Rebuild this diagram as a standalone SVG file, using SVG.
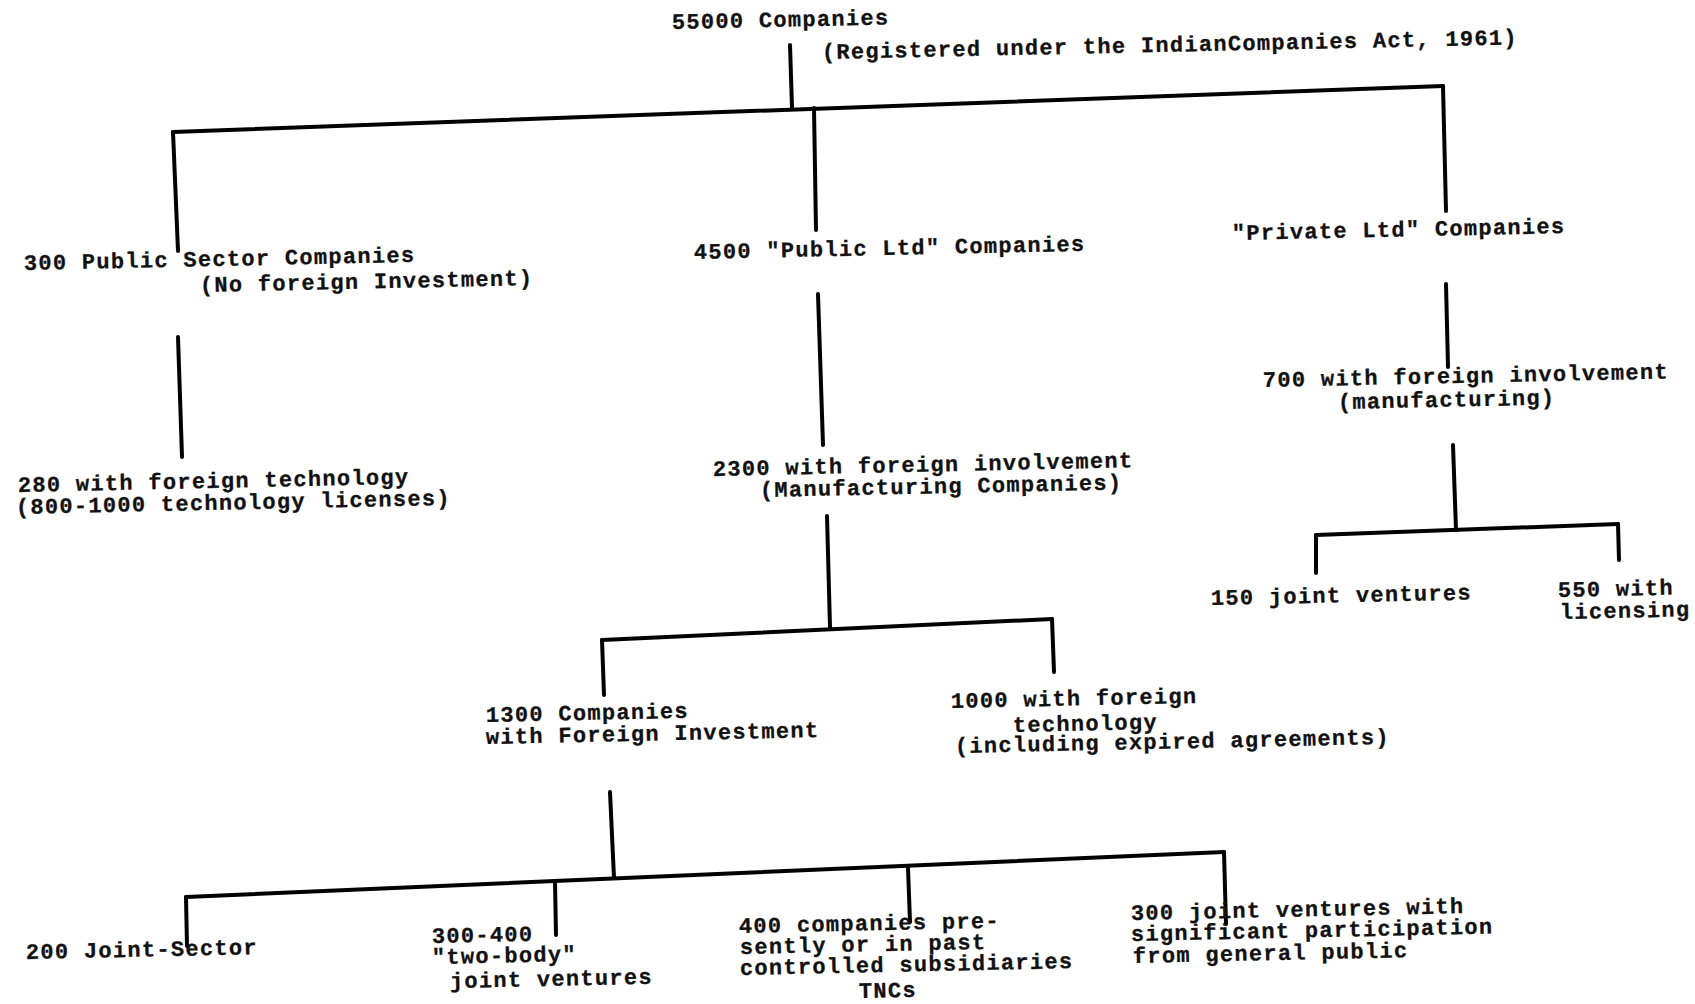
<svg xmlns="http://www.w3.org/2000/svg" width="1695" height="1004" viewBox="0 0 1695 1004">
<style>
text{font-family:"Liberation Mono","DejaVu Sans Mono",monospace;font-weight:bold;font-size:22px;letter-spacing:1.3px;fill:#111;stroke:#111;stroke-width:0.3px;}
.c line{stroke:#000;stroke-width:4;stroke-linecap:round;}
</style>
<rect width="1695" height="1004" fill="#fff"/>
<g class="c" id="connectors">
<line x1="790" y1="45" x2="792" y2="108"/>
<line x1="173" y1="132" x2="1443" y2="86"/>
<line x1="173" y1="132" x2="178" y2="251"/>
<line x1="814" y1="108" x2="816" y2="230"/>
<line x1="1443" y1="86" x2="1446" y2="211"/>
<line x1="178" y1="337" x2="182" y2="457"/>
<line x1="818" y1="294" x2="823" y2="445"/>
<line x1="827" y1="516" x2="830" y2="627"/>
<line x1="602" y1="640" x2="1052" y2="619"/>
<line x1="602" y1="640" x2="604" y2="695"/>
<line x1="1052" y1="619" x2="1054" y2="672"/>
<line x1="610" y1="792" x2="614" y2="878"/>
<line x1="186" y1="897" x2="1224" y2="852"/>
<line x1="186" y1="897" x2="187" y2="946"/>
<line x1="555" y1="882" x2="556" y2="935"/>
<line x1="908" y1="868" x2="910" y2="922"/>
<line x1="1224" y1="852" x2="1226" y2="924"/>
<line x1="1446" y1="284" x2="1448" y2="367"/>
<line x1="1453" y1="445" x2="1456" y2="530"/>
<line x1="1316" y1="535" x2="1618" y2="524"/>
<line x1="1316" y1="535" x2="1316" y2="573"/>
<line x1="1618" y1="524" x2="1619" y2="560"/>
</g>
<g id="root">
<text x="672" y="29" transform="rotate(-1.2 672 29)">55000 Companies</text>
<text x="822" y="59" transform="rotate(-1.2 822 59)">(Registered under the IndianCompanies Act, 1961)</text>
</g>
<g id="public-sector">
<text x="24" y="270" transform="rotate(-1.2 24 270)">300 Public Sector Companies</text>
<text x="200" y="292" transform="rotate(-1.2 200 292)">(No foreign Investment)</text>
</g>
<g id="foreign-tech-280">
<text x="18" y="492" transform="rotate(-1.2 18 492)">280 with foreign technology</text>
<text x="16" y="514" transform="rotate(-1.2 16 514)">(800-1000 technology licenses)</text>
</g>
<g id="public-ltd">
<text x="694" y="259" transform="rotate(-1.2 694 259)">4500 "Public Ltd" Companies</text>
</g>
<g id="foreign-2300">
<text x="713" y="476" transform="rotate(-1.2 713 476)">2300 with foreign involvement</text>
<text x="760" y="497" transform="rotate(-1.2 760 497)">(Manufacturing Companies)</text>
</g>
<g id="investment-1300">
<text x="486" y="722" transform="rotate(-1.2 486 722)">1300 Companies</text>
<text x="486" y="744" transform="rotate(-1.2 486 744)">with Foreign Investment</text>
</g>
<g id="tech-1000">
<text x="951" y="708" transform="rotate(-1.2 951 708)">1000 with foreign</text>
<text x="1013" y="732" transform="rotate(-1.2 1013 732)">technology</text>
<text x="955" y="753" transform="rotate(-1.2 955 753)">(including expired agreements)</text>
</g>
<g id="joint-sector">
<text x="26" y="959" transform="rotate(-1.2 26 959)">200 Joint-Sector</text>
</g>
<g id="two-body">
<text x="432" y="943" transform="rotate(-1.2 432 943)">300-400</text>
<text x="432" y="964" transform="rotate(-1.2 432 964)">"two-body"</text>
<text x="450" y="988" transform="rotate(-1.2 450 988)">joint ventures</text>
</g>
<g id="subsidiaries">
<text x="739" y="933" transform="rotate(-1.2 739 933)">400 companies pre-</text>
<text x="740" y="954" transform="rotate(-1.2 740 954)">sently or in past</text>
<text x="740" y="975" transform="rotate(-1.2 740 975)">controlled subsidiaries</text>
<text x="859" y="998" transform="rotate(-1.2 859 998)">TNCs</text>
</g>
<g id="public-participation">
<text x="1131" y="920" transform="rotate(-1.2 1131 920)">300 joint ventures with</text>
<text x="1131" y="941" transform="rotate(-1.2 1131 941)">significant participation</text>
<text x="1133" y="963" transform="rotate(-1.2 1133 963)">from general public</text>
</g>
<g id="private-ltd">
<text x="1232" y="240" transform="rotate(-1.2 1232 240)">"Private Ltd" Companies</text>
</g>
<g id="foreign-700">
<text x="1263" y="387" transform="rotate(-1.2 1263 387)">700 with foreign involvement</text>
<text x="1338" y="409" transform="rotate(-1.2 1338 409)">(manufacturing)</text>
</g>
<g id="joint-150">
<text x="1211" y="605" transform="rotate(-1.2 1211 605)">150 joint ventures</text>
</g>
<g id="licensing-550">
<text x="1558" y="597" transform="rotate(-1.2 1558 597)">550 with</text>
<text x="1560" y="619" transform="rotate(-1.2 1560 619)">licensing</text>
</g>
</svg>
